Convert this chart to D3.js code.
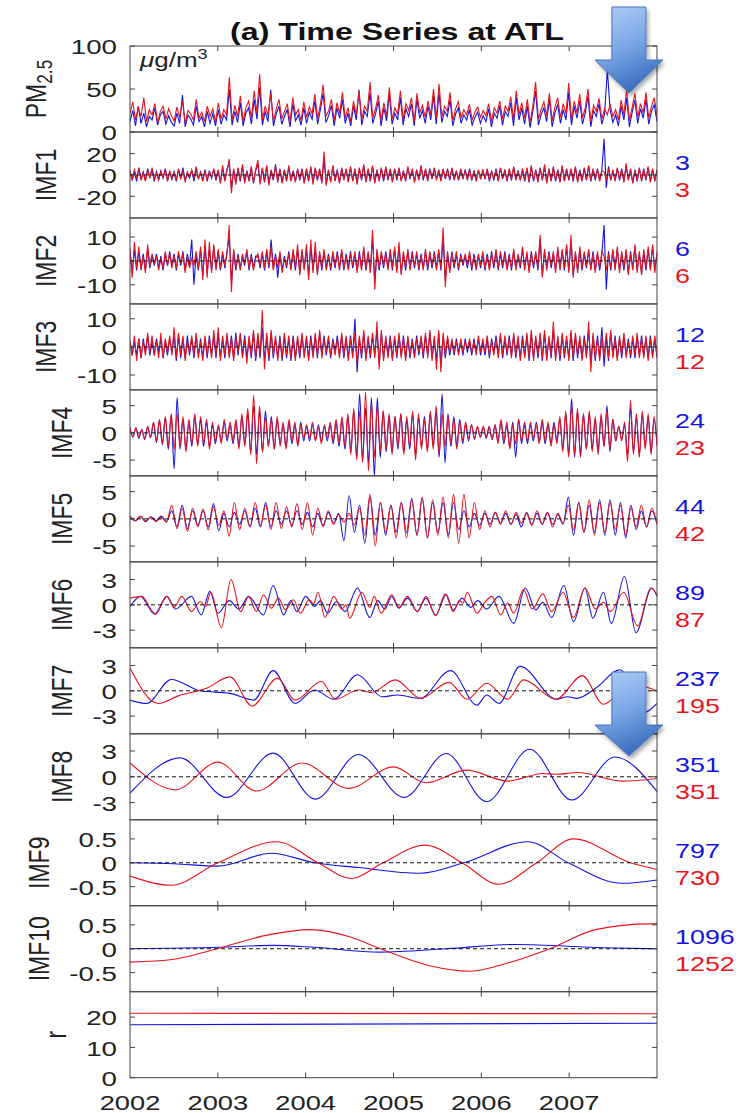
<!DOCTYPE html>
<html>
<head>
<meta charset="utf-8">
<script src="https://cdn.jsdelivr.net/npm/d3@7"></script>
<style>
  body { margin: 0; background: #fff; }
  svg { display: block; }
  text { font-family: "Liberation Sans", Arial, Helvetica, sans-serif; fill: #222; }
</style>
</head>
<body>
<svg id="chart" width="751" height="1113"></svg>
<script>
// ---------------- data ----------------
const years = [2002, 2003, 2004, 2005, 2006, 2007];
const periodsBlue = [3, 6, 12, 24, 44, 89, 237, 351, 797, 1096];
const periodsRed = [3, 6, 12, 23, 42, 87, 195, 351, 730, 1252];

// PM2.5, evenly sampled 2002-2008 (32 per year)
const pmRed = [
  22,35,14,28,18,40,12,26,20,33,11,24,30,15,27,19,
  13,29,17,36,10,25,21,14,38,16,23,12,30,18,27,11,
  34,15,26,20,64,14,31,18,42,12,28,36,16,48,22,67,
  14,30,19,45,12,27,38,15,24,33,11,40,20,26,13,35,
  17,29,21,44,15,32,55,18,25,38,13,34,22,46,16,28,
  12,36,20,47,14,30,24,58,16,27,43,13,34,19,52,15,
  28,21,48,14,33,25,40,12,45,22,31,17,36,20,50,15,
  56,18,30,24,46,13,27,35,16,26,20,32,14,23,29,17,
  25,19,33,12,28,22,36,15,30,24,41,14,48,20,34,16,
  38,11,30,58,15,26,35,19,45,13,29,40,17,33,21,57,
  14,36,22,44,16,28,50,12,31,24,39,15,27,20,32,18,
  26,14,37,20,50,13,29,45,17,33,22,46,16,30,40,19
];
const pmBlue = [
  12,25,7,30,10,22,6,18,14,28,8,20,24,9,19,11,
  7,22,10,43,6,20,15,8,30,12,18,6,24,10,21,7,
  26,9,20,14,50,8,24,11,34,7,22,28,9,38,15,52,
  8,24,12,49,7,21,30,9,18,26,6,33,13,20,8,28,
  10,23,15,36,9,26,45,11,19,31,7,28,16,38,10,22,
  7,30,14,49,8,24,18,46,10,21,36,7,28,13,44,9,
  22,14,40,8,27,18,33,7,38,16,25,10,30,14,42,9,
  46,11,24,18,38,7,21,28,10,20,14,26,8,17,23,10,
  19,12,27,6,22,16,30,8,24,18,34,7,40,14,28,9,
  30,5,24,48,8,20,28,12,38,6,22,32,10,26,14,46,
  8,30,16,36,9,22,42,6,25,18,33,9,21,72,26,11,
  20,7,30,14,40,6,23,37,10,27,16,38,9,24,32,12
];

// IMF1..IMF3, evenly sampled (40 per year)
const imf1Red = [
  3,-4,5,-2,6,-5,2,-6,4,-3,7,-4,1,-5,3,-2,5,-6,4,-3,
  2,-5,6,-3,4,-7,3,-2,5,-4,8,-3,2,-6,4,-5,3,-2,6,-4,
  5,-8,9,-6,4,15,-17,6,-9,7,-5,10,-8,3,-6,8,-7,5,14,-9,
  7,-6,9,-10,5,-4,8,-7,6,-8,4,-5,9,-6,3,-7,6,-4,5,-8,
  6,-5,8,-9,7,-4,6,-8,22,-10,5,-7,9,-6,4,-8,7,-5,6,-7,
  8,-6,5,-9,7,-4,10,-7,6,-5,9,-8,4,-6,7,-5,8,-4,6,-7,
  5,-4,7,-6,3,-5,8,-3,6,-7,4,-5,9,-4,6,-6,5,-3,7,-5,
  4,-6,6,-3,5,-4,7,-5,3,-4,6,-3,4,-5,5,-4,3,-6,5,-3,
  4,-3,6,-5,3,-4,5,-6,7,-3,4,-5,6,-4,8,-5,3,-4,6,-5,
  7,-6,9,-5,4,-7,6,-4,10,-8,5,-6,8,-5,4,-7,9,-6,5,-4,
  6,-5,8,-7,4,-6,7,-4,9,-5,6,-4,5,-6,4,3,-5,6,-4,5,
  -6,7,-4,5,-7,11,-5,6,-8,4,-5,7,-6,5,-4,8,-7,6,-5,4
];
const imf1Blue = [
  4,-5,3,-6,7,-4,3,-5,6,-2,5,-6,3,-4,4,-3,6,-5,3,-4,
  3,-6,5,-4,7,-5,2,-3,4,-6,6,-4,3,-5,5,-6,4,-3,5,-5,
  4,-7,7,-5,6,10,-12,5,-7,6,-6,8,-6,4,-5,7,-8,4,10,-7,
  6,-7,8,-8,4,-5,10,-6,5,-7,5,-6,7,-5,4,-6,5,-5,6,-7,
  5,-6,7,-7,6,-5,5,-7,15,-8,4,-6,8,-5,5,-7,6,-4,5,-6,
  7,-5,6,-8,6,-5,9,-6,5,-6,8,-7,5,-5,6,-6,7,-5,5,-6,
  6,-5,6,-5,4,-6,7,-4,5,-6,5,-4,8,-5,5,-5,6,-4,6,-4,
  5,-5,5,-4,6,-5,6,-4,4,-5,5,-4,5,-4,6,-5,4,-5,4,-4,
  5,-4,5,-6,4,-5,6,-5,6,-4,5,-6,5,-5,7,-4,4,-5,5,-6,
  6,-7,8,-6,5,-6,7,-5,8,-7,6,-5,7,-6,5,-6,8,-5,6,-5,
  5,-6,7,-6,5,-5,6,-5,8,-6,5,-5,6,-5,5,34,-12,8,-5,4,
  -5,6,-5,6,-6,8,-4,5,-7,5,-6,6,-5,6,-5,7,-6,5,-6,5
];
const imf2Red = [
  5,-7,8,-3,6,-4,2,-5,7,-2,3,-1,2,-4,1,-3,4,-2,3,-3,
  2,-3,4,-1,3,-5,2,-3,1,-2,4,-3,6,-8,9,-7,8,-5,7,-4,
  5,-3,4,-2,3,15,-13,5,-3,2,-4,3,-1,5,-3,2,-4,1,3,-2,
  4,-3,5,-2,6,-4,2,-3,4,-5,1,-2,3,-4,5,-3,7,-6,5,-4,
  7,-8,9,-5,8,-6,4,-3,5,-4,2,-3,4,-2,3,-4,5,-3,2,-4,
  3,-2,4,-5,3,-4,6,-3,4,-5,13,-12,5,-3,4,-2,3,-4,5,-3,
  6,-5,8,-6,4,-3,5,-4,3,-2,4,-3,2,-4,5,-3,4,-2,3,-4,
  5,-3,14,-11,4,-5,3,-2,4,-3,2,-1,3,-2,4,-3,2,-4,3,-2,
  4,-3,2,-4,3,-2,5,-3,4,-2,3,-4,2,-3,5,-4,3,-2,6,-4,
  4,-5,3,-2,4,-3,11,-7,5,-4,3,-2,4,-5,6,-4,5,-3,7,-5,
  11,-7,4,-5,6,-3,4,-2,5,-4,3,-5,4,-3,4,2,-4,3,-3,5,
  -4,6,-5,4,-3,5,-6,3,-4,7,-5,4,-6,5,-3,6,-4,7,-5,4
];
const imf2Blue = [
  4,-5,5,-4,4,-3,3,-4,5,-3,2,-2,3,-3,2,-4,3,-2,4,-2,
  3,-4,3,-2,4,-4,3,-2,9,-10,3,-4,5,-6,6,-5,5,-4,6,-3,
  4,-4,3,-3,4,10,-9,4,-4,3,-3,2,-2,4,-4,3,-3,2,2,-3,
  3,-4,4,-3,9,-3,3,-7,3,-4,2,-3,4,-3,4,-4,5,-5,4,-3,
  5,-6,6,-4,5,-5,3,-4,4,-3,3,-4,3,-3,4,-3,4,-4,3,-3,
  4,-3,3,-4,4,-3,5,-4,3,-4,10,-9,4,-4,3,-3,4,-3,4,-4,
  5,-4,6,-5,3,-4,4,-3,4,-3,3,-4,3,-3,4,-4,3,-3,4,-3,
  4,-4,10,-8,3,-4,4,-3,3,-4,3,-2,2,-3,3,-4,3,-3,2,-3,
  3,-4,3,-3,4,-3,4,-4,3,-3,4,-3,3,-4,4,-3,2,-3,5,-3,
  3,-4,4,-3,3,-4,9,-6,4,-3,4,-3,3,-4,5,-3,4,-4,6,-4,
  8,-6,3,-4,5,-4,3,-3,4,-3,4,-4,3,-4,3,15,-12,4,-4,4,
  -3,5,-4,3,-4,4,-5,4,-3,6,-4,3,-5,4,-4,5,-3,6,-4,3
];
const imf3Red = [
  2,-3,4,-5,3,-4,2,-3,5,-2,4,-3,2,-4,5,-4,3,-2,4,-3,
  7,-4,5,-3,4,-5,2,-2,4,-3,5,-4,2,-5,4,-3,3,-4,6,-3,
  7,-5,4,-3,5,-4,3,-5,4,-2,5,-4,3,-6,4,-3,6,-4,5,-3,
  13,-8,5,-4,6,-3,4,-5,3,-4,5,-3,4,-4,3,-5,4,-3,5,-4,
  4,-5,3,-4,5,-3,6,-4,3,-2,4,-3,2,-3,3,-4,5,-3,4,-5,
  3,-4,5,-6,4,-3,6,-5,4,-3,5,-4,9,-8,6,-5,4,-4,3,-5,
  4,-3,5,-4,3,-5,4,-3,2,-4,3,-2,4,-3,5,-4,6,-5,4,-8,
  6,-9,5,-3,4,-2,3,-2,2,-3,3,-2,2,-1,3,-2,2,-3,4,-2,
  3,-2,4,-3,2,-3,3,-4,5,-3,4,-2,3,-4,5,-3,4,-5,3,-4,
  5,-4,6,-5,4,-3,5,-4,6,-5,4,-3,9,-5,4,-4,5,-3,4,-5,
  6,-4,5,-3,4,-5,3,-4,9,-9,5,-4,3,-5,4,-3,5,-4,6,-4,
  3,-5,4,-3,5,-4,2,-3,4,-3,5,-4,3,-4,4,-5,3,-4,4,-3
];
const imf3Blue = [
  2,-3,2,-3,3,-4,3,-2,4,-3,2,-3,3,-2,3,-4,2,-3,3,-2,
  4,-5,4,-4,3,-4,4,-3,3,-4,4,-3,3,-4,3,-4,4,-3,4,-4,
  5,-4,3,-4,4,-3,4,-4,5,-3,4,-3,4,-4,3,-4,5,-5,4,-4,
  7,-5,4,-5,5,-4,3,-4,4,-5,4,-4,3,-5,4,-4,3,-4,4,-3,
  3,-4,4,-3,4,-4,5,-3,4,-3,3,-4,3,-2,4,-3,4,-4,3,-4,
  4,-3,10,-9,3,-4,5,-4,3,-4,4,-3,6,-6,5,-4,3,-3,4,-4,
  3,-4,4,-3,4,-4,3,-4,3,-3,4,-3,3,-4,4,-3,5,-4,3,-5,
  5,-6,4,-4,3,-3,2,-3,3,-2,2,-3,3,-2,2,-3,3,-2,3,-3,
  2,-3,3,-4,3,-2,4,-3,4,-4,3,-3,4,-3,4,-4,3,-4,4,-3,
  4,-5,5,-4,3,-4,4,-5,5,-4,3,-4,6,-4,3,-5,4,-4,3,-4,
  5,-5,4,-4,3,-4,4,-3,6,-6,4,-5,4,-4,7,-7,4,-5,5,-3,
  4,-4,3,-4,4,-3,3,-4,3,-4,4,-3,4,-3,3,-4,4,-3,3,-4
];

// IMF4, IMF5: successive extrema, evenly spaced in time
const imf4Red = [
  0.8,-0.6,1.0,-0.8,0.5,-1.0,1.2,-0.7,2.0,-1.5,2.5,-2.0,3.0,-2.5,3.5,
  -3.0,3.5,-2.5,3.0,-3.5,2.5,-2.0,3.5,-2.5,3.0,-2.0,2.5,-3.0,2.0,-1.5,
  1.5,-2.0,2.5,-1.0,2.0,-1.5,2.5,-3.0,3.5,-2.5,4.5,-4.0,6.9,-5.7,5.0,
  -3.5,3.0,-2.5,2.5,-3.0,3.0,-2.5,2.0,-3.0,2.5,-1.5,2.0,-2.5,1.5,-1.0,
  1.5,-1.0,2.0,-1.5,1.0,-2.0,1.5,-1.0,2.0,-1.5,2.5,-2.0,3.0,-2.5,3.5,
  -4.0,4.5,-5.0,4.0,-5.5,7.5,-7.0,5.5,-4.5,5.0,-3.5,4.0,-3.0,3.5,-4.0,
  3.0,-2.5,3.5,-4.0,3.0,-2.5,4.0,-5.0,3.5,-3.0,2.5,-3.5,4.0,-3.0,5.0,
  -4.0,3.5,-2.5,3.0,-2.0,2.5,-3.0,2.0,-1.5,2.0,-1.0,1.5,-1.0,1.2,-0.8,
  1.2,-0.8,1.0,-1.2,1.5,-2.0,2.5,-1.5,2.0,-3.0,1.5,-2.0,2.5,-1.5,2.0,
  -1.5,2.0,-1.0,1.5,-2.0,2.5,-1.5,2.0,-2.5,1.5,-2.0,3.0,-3.5,4.0,-4.5,
  5.0,-4.0,4.5,-4.5,3.5,-3.0,4.0,-3.5,3.0,-4.0,3.5,-2.5,4.0,-3.0,2.5,
  -1.5,1.2,-1.5,2.0,-5.3,6.0,-4.0,3.5,-4.5,4.0,-3.0,3.5,-4.0,3.0,-2.5
];
const imf4Blue = [
  1.0,-0.8,0.8,-1.0,0.6,-1.2,1.0,-0.9,1.8,-1.8,2.2,-2.2,2.8,-3.0,3.2,
  -6.6,6.5,-3.0,2.5,-3.0,2.0,-2.5,3.0,-2.0,2.5,-2.5,2.0,-2.5,1.5,-2.0,
  1.2,-1.5,2.0,-1.5,1.5,-2.0,2.0,-2.5,3.0,-2.0,3.5,-3.5,5.0,-4.0,4.0,
  -3.5,4.0,-2.5,3.0,-3.0,2.5,-2.0,1.5,-2.5,2.0,-2.0,1.5,-2.0,2.0,-1.5,
  1.2,-1.5,1.5,-1.2,1.5,-1.5,1.2,-1.5,1.5,-2.0,2.0,-2.5,2.5,-3.0,3.0,
  -3.5,4.0,-4.5,7.2,-5.0,4.5,-5.5,6.5,-8.0,6.5,-4.5,4.0,-3.5,3.0,-3.5,
  3.0,-3.0,3.5,-3.5,2.5,-3.0,3.5,-4.0,3.0,-2.5,3.0,-3.0,3.5,-2.5,4.0,
  -4.5,7.2,-5.5,3.5,-2.5,3.0,-2.5,2.5,-2.0,1.5,-1.5,1.5,-1.2,1.0,-0.8,
  1.0,-1.0,1.2,-1.2,1.5,-1.5,2.0,-2.0,1.5,-2.5,2.0,-4.5,2.5,-2.0,1.5,
  -2.0,1.5,-1.5,2.0,-1.5,2.0,-2.0,1.5,-2.0,2.0,-1.5,2.5,-3.0,3.5,-4.0,
  6.3,-4.5,4.0,-4.0,3.5,-3.0,3.5,-3.0,2.5,-3.5,3.0,-2.5,5.0,-3.5,2.5,
  -1.5,1.2,-1.2,1.5,-4.0,4.5,-3.5,3.0,-4.0,3.5,-2.5,3.0,-3.5,2.5,-2.0
];
const imf5Red = [
  0.4,-0.3,0.5,-0.4,0.3,-0.5,0.3,-0.6,2.5,-1.8,2.0,-2.3,2.0,-1.5,1.8,-2.0,2.2,
  -1.2,1.5,-3.2,3.0,-2.0,2.0,-1.5,3.0,-1.2,2.5,-2.0,3.0,-1.8,2.2,-1.5,2.8,-2.0,
  3.0,-3.0,2.0,-1.5,1.5,-1.0,0.8,-0.6,1.0,-1.2,2.0,-3.0,4.5,-5.0,3.0,-2.5,2.5,
  -3.5,3.0,-3.5,3.5,-3.0,4.0,-3.5,3.5,-3.0,4.0,-3.5,4.5,-4.5,4.5,-3.5,3.0,-2.0,
  1.5,-1.5,1.2,-1.0,1.5,-1.0,1.2,-0.8,1.0,-1.2,1.5,-1.0,1.2,-1.5,1.0,-0.8,2.5,
  -2.0,3.0,-2.5,3.5,-3.0,3.0,-2.5,3.0,-2.0,2.5,-3.0,2.0,-1.5,2.5,-1.5,2.0,-1.0
];
const imf5Blue = [
  0.5,-0.4,0.4,-0.5,0.4,-0.3,0.5,-0.5,1.5,-1.5,2.5,-1.8,1.5,-1.2,1.5,-1.5,2.8,
  -2.2,1.0,-1.5,1.2,-1.0,1.5,-1.5,2.0,-1.5,3.0,-1.5,1.5,-1.0,1.5,-1.2,1.5,-1.0,
  1.2,-1.5,1.0,-1.2,1.2,-0.8,1.0,-4.0,4.3,-2.5,2.5,-4.5,4.0,-3.0,3.0,-3.0,2.5,
  -2.5,3.0,-2.5,3.8,-3.0,3.8,-3.5,3.0,-2.5,3.0,-3.0,3.0,-2.0,1.5,-1.5,1.0,-1.2,
  1.0,-1.0,1.2,-0.8,1.0,-1.0,0.8,-1.5,1.2,-1.0,1.0,-1.0,1.2,-1.0,0.8,-1.0,4.0,
  -3.0,3.0,-2.5,2.5,-2.5,3.5,-3.0,3.5,-3.0,3.0,-3.5,2.5,-2.0,1.5,-1.5,1.5,-1.0
];

// IMF6..IMF10 and r: [year, value] turning points
const imf6Red = [
  [2002.00,0.8],[2002.13,1.0],[2002.29,-1.1],[2002.42,1.0],[2002.50,-0.3],[2002.59,1.0],
  [2002.70,-0.8],[2002.80,0.4],[2002.86,-0.2],[2002.92,1.5],[2003.04,-2.7],[2003.15,3.0],
  [2003.26,-0.8],[2003.35,1.0],[2003.44,-0.8],[2003.52,1.2],[2003.61,-0.4],[2003.69,0.8],
  [2003.77,-0.6],[2003.86,0.6],[2003.94,-1.0],[2004.04,0.6],[2004.09,0.1],[2004.14,1.5],
  [2004.22,-1.5],[2004.32,1.0],[2004.41,-0.5],[2004.46,0.0],[2004.50,-1.6],[2004.64,1.5],
  [2004.73,-0.3],[2004.78,1.0],[2004.86,-1.0],[2004.98,1.2],[2005.06,-0.3],[2005.16,1.0],
  [2005.27,-0.8],[2005.37,1.0],[2005.48,-1.3],[2005.59,1.3],[2005.68,-0.8],[2005.75,0.5],
  [2005.79,0.2],[2005.84,1.5],[2005.95,-1.0],[2006.04,0.3],[2006.12,1.0],[2006.22,-1.2],
  [2006.30,0.2],[2006.37,-1.0],[2006.48,1.8],[2006.58,-0.5],[2006.70,1.3],[2006.80,-0.8],
  [2006.93,1.5],[2007.05,-1.5],[2007.18,2.0],[2007.30,-0.5],[2007.39,0.3],[2007.47,-0.8],
  [2007.62,1.5],[2007.78,-2.5],[2007.93,2.0],[2008.00,1.2]
];
const imf6Blue = [
  [2002.00,-0.2],[2002.12,1.0],[2002.28,-1.1],[2002.42,1.0],[2002.52,-0.5],[2002.70,1.0],
  [2002.81,-1.2],[2002.91,1.6],[2003.00,-1.0],[2003.13,0.5],[2003.24,-0.5],[2003.35,1.0],
  [2003.52,-1.2],[2003.63,2.3],[2003.75,-1.2],[2003.83,0.5],[2003.90,-0.8],[2004.00,1.0],
  [2004.10,-0.2],[2004.17,0.5],[2004.25,-1.0],[2004.35,0.4],[2004.45,-0.8],[2004.59,2.0],
  [2004.73,-1.5],[2004.82,0.5],[2004.90,-0.5],[2004.98,1.0],[2005.06,-0.4],[2005.16,0.8],
  [2005.27,-0.8],[2005.37,0.8],[2005.48,-1.2],[2005.60,1.2],[2005.68,-0.6],[2005.78,0.8],
  [2005.88,-0.3],[2005.96,0.5],[2006.06,-0.5],[2006.20,1.0],[2006.37,-2.2],[2006.50,2.0],
  [2006.62,-0.6],[2006.70,0.3],[2006.80,-1.5],[2006.94,2.3],[2007.05,-2.0],[2007.18,2.0],
  [2007.27,-1.6],[2007.39,1.5],[2007.48,-2.2],[2007.63,3.4],[2007.76,-3.3],[2007.94,2.0],
  [2008.00,1.0]
];
const imf7Red = [
  [2002.00,2.7],[2002.32,-1.5],[2002.55,-0.6],[2002.87,0.3],[2003.14,1.65],[2003.39,-1.8],
  [2003.68,1.5],[2003.88,-1.1],[2004.18,1.1],[2004.34,-1.0],[2004.60,0.1],[2004.75,-0.2],
  [2005.02,1.3],[2005.31,-0.9],[2005.63,1.0],[2005.84,-1.0],[2006.06,0.9],[2006.30,-1.0],
  [2006.48,1.3],[2006.85,-1.0],[2007.15,1.8],[2007.39,-1.6],[2007.70,0.8],[2008.00,0.0]
];
const imf7Blue = [
  [2002.00,-1.1],[2002.19,-1.5],[2002.47,1.35],[2002.80,0.0],[2003.14,-0.3],[2003.41,-1.1],
  [2003.63,2.4],[2003.88,-1.5],[2004.10,0.1],[2004.32,-1.0],[2004.59,1.9],[2004.87,-0.7],
  [2005.05,-0.5],[2005.30,-0.9],[2005.65,2.4],[2005.95,-1.7],[2006.06,-0.5],[2006.20,-1.5],
  [2006.44,2.9],[2006.86,-1.0],[2006.98,-0.7],[2007.09,-0.9],[2007.30,0.3],[2007.58,2.5],
  [2007.85,-2.6],[2008.00,-1.5]
];
const imf8Red = [
  [2002.00,1.6],[2002.52,-1.5],[2003.00,1.7],[2003.44,-1.65],[2003.96,1.6],[2004.49,-1.35],
  [2005.00,1.15],[2005.37,-0.7],[2005.83,0.77],[2006.30,-0.5],[2006.70,0.38],[2006.85,0.3],
  [2007.10,0.5],[2007.60,-0.5],[2008.00,-0.2]
];
const imf8Blue = [
  [2002.00,-1.9],[2002.57,2.2],[2003.10,-2.4],[2003.63,2.75],[2004.11,-2.6],[2004.60,2.6],
  [2005.12,-2.4],[2005.60,2.7],[2006.06,-2.9],[2006.55,3.2],[2007.03,-2.7],[2007.52,2.3],
  [2008.00,-1.7]
];
const imf9Red = [
  [2002.00,-0.28],[2002.47,-0.47],[2003.00,0.0],[2003.67,0.44],[2004.14,0.0],[2004.52,-0.33],
  [2004.88,0.0],[2005.36,0.37],[2005.78,0.0],[2006.20,-0.45],[2006.63,0.0],[2007.05,0.5],
  [2007.70,0.0],[2008.00,-0.14]
];
const imf9Blue = [
  [2002.00,0.0],[2002.50,-0.02],[2003.00,-0.07],[2003.61,0.2],[2004.10,0.0],[2004.60,-0.1],
  [2005.30,-0.22],[2005.80,0.0],[2006.53,0.44],[2006.99,0.0],[2007.60,-0.43],[2008.00,-0.36]
];
const imf10Red = [
  [2002.00,-0.28],[2002.50,-0.22],[2002.99,0.0],[2003.60,0.3],[2004.05,0.4],[2004.50,0.25],
  [2004.85,0.0],[2005.40,-0.35],[2005.87,-0.47],[2006.30,-0.3],[2006.78,0.0],[2007.30,0.4],
  [2007.92,0.52],[2008.00,0.52]
];
const imf10Blue = [
  [2002.00,0.0],[2003.00,0.03],[2003.63,0.07],[2004.10,0.03],[2004.84,-0.07],[2005.60,0.0],
  [2006.40,0.09],[2007.40,0.02],[2008.00,0.0]
];
const rRed = [[2002.00,21.3],[2008.00,21.1]];
const rBlue = [[2002.00,17.5],[2008.00,18.0]];

// ---------------- layout ----------------
const plotLeft = 130, plotRight = 657, plotTop = 46, plotBottom = 1077.7;
const nPanels = 12;
const ph = (plotBottom - plotTop) / nPanels;
const SX = 1.3;            // the figure's text is stretched horizontally
const BLUE = "#1414e0", RED = "#e8141c";

const x = d3.scaleLinear().domain([2002, 2008]).range([plotLeft, plotRight]);

// evenly sampled series -> [year, value]
const even = vals => vals.map((v, i) => [2002 + 6 * i / (vals.length - 1), v]);

const panels = [
  {label: "PM", domain: [0, 100], ticks: [0, 50, 100], blue: even(pmBlue), red: even(pmRed), curve: d3.curveLinear, zero: false},
  {label: "IMF1", domain: [-40.3, 40.3], ticks: [-20, 0, 20], blue: even(imf1Blue), red: even(imf1Red), curve: d3.curveLinear, zero: true},
  {label: "IMF2", domain: [-18, 18], ticks: [-10, 0, 10], blue: even(imf2Blue), red: even(imf2Red), curve: d3.curveLinear, zero: true},
  {label: "IMF3", domain: [-15.3, 15.3], ticks: [-10, 0, 10], blue: even(imf3Blue), red: even(imf3Red), curve: d3.curveLinear, zero: true},
  {label: "IMF4", domain: [-7.9, 7.9], ticks: [-5, 0, 5], blue: even(imf4Blue), red: even(imf4Red), curve: d3.curveMonotoneX, zero: true},
  {label: "IMF5", domain: [-7.9, 7.9], ticks: [-5, 0, 5], blue: even(imf5Blue), red: even(imf5Red), curve: d3.curveMonotoneX, zero: true},
  {label: "IMF6", domain: [-5.1, 5.1], ticks: [-3, 0, 3], blue: imf6Blue, red: imf6Red, curve: d3.curveMonotoneX, zero: true},
  {label: "IMF7", domain: [-5.1, 5.1], ticks: [-3, 0, 3], blue: imf7Blue, red: imf7Red, curve: d3.curveMonotoneX, zero: true},
  {label: "IMF8", domain: [-5, 5], ticks: [-3, 0, 3], blue: imf8Blue, red: imf8Red, curve: d3.curveMonotoneX, zero: true},
  {label: "IMF9", domain: [-0.9, 0.9], ticks: [-0.5, 0, 0.5], blue: imf9Blue, red: imf9Red, curve: d3.curveMonotoneX, zero: true},
  {label: "IMF10", domain: [-0.9, 0.9], ticks: [-0.5, 0, 0.5], blue: imf10Blue, red: imf10Red, curve: d3.curveMonotoneX, zero: true},
  {label: "r", domain: [0, 28.4], ticks: [0, 10, 20], blue: rBlue, red: rRed, curve: d3.curveLinear, zero: false}
];
panels.forEach((p, i) => {
  if (i >= 1 && i <= 10) { p.perBlue = periodsBlue[i - 1]; p.perRed = periodsRed[i - 1]; }
});

const svg = d3.select("#chart");
const defs = svg.append("defs");

// ---------------- panels ----------------
panels.forEach((p, i) => {
  const y0 = plotTop + i * ph, y1 = y0 + ph, cy = (y0 + y1) / 2;
  const y = d3.scaleLinear().domain(p.domain).range([y1, y0]);
  const g = svg.append("g").attr("class", "panel");

  defs.append("clipPath").attr("id", "clip" + i)
    .append("rect").attr("x", plotLeft).attr("y", y0).attr("width", plotRight - plotLeft).attr("height", ph);

  const line = d3.line().x(d => x(d[0])).y(d => y(d[1])).curve(p.curve);
  const plot = g.append("g").attr("clip-path", `url(#clip${i})`);
  plot.append("path").attr("d", line(p.blue)).attr("fill", "none")
    .attr("stroke", BLUE).attr("stroke-width", 1.1);
  plot.append("path").attr("d", line(p.red)).attr("fill", "none")
    .attr("stroke", RED).attr("stroke-width", 1.1);

  if (p.zero) {
    g.append("line").attr("x1", plotLeft).attr("x2", plotRight)
      .attr("y1", y(0)).attr("y2", y(0))
      .attr("stroke", "#111").attr("stroke-width", 1).attr("stroke-dasharray", "4,3");
  }

  // frame + inward ticks
  g.append("rect").attr("x", plotLeft).attr("y", y0).attr("width", plotRight - plotLeft).attr("height", ph)
    .attr("fill", "none").attr("stroke", "#444").attr("stroke-width", 1);
  years.slice(1).forEach(yr => {
    g.append("line").attr("x1", x(yr)).attr("x2", x(yr)).attr("y1", y0).attr("y2", y0 + 5)
      .attr("stroke", "#444");
    g.append("line").attr("x1", x(yr)).attr("x2", x(yr)).attr("y1", y1).attr("y2", y1 - 5)
      .attr("stroke", "#444");
  });
  p.ticks.forEach(t => {
    g.append("line").attr("x1", plotLeft).attr("x2", plotLeft + 5).attr("y1", y(t)).attr("y2", y(t)).attr("stroke", "#444");
    g.append("line").attr("x1", plotRight - 5).attr("x2", plotRight).attr("y1", y(t)).attr("y2", y(t)).attr("stroke", "#444");
  });

  // tick labels
  const tl = g.append("g");
  p.ticks.forEach(t => {
    tl.append("text")
      .attr("transform", `translate(${plotLeft - 13},${y(t)}) scale(1.35,1)`)
      .attr("text-anchor", "end").attr("dy", "0.4em")
      .attr("font-size", 20.5).text(String(t));
  });
  const tickLeft = tl.node().getBoundingClientRect().left;

  // rotated y label
  const lab = g.append("text").attr("text-anchor", "middle").attr("font-size", 23);
  if (p.label === "PM") {
    lab.append("tspan").text("PM");
    lab.append("tspan").attr("font-size", "0.75em").attr("dy", "0.3em").text("2.5");
  } else {
    lab.text(p.label);
  }
  lab.attr("transform", `translate(0,${cy}) scale(${SX},1) rotate(-90)`);
  const lr = lab.node().getBoundingClientRect().right;
  lab.attr("transform", `translate(${tickLeft - 14 - lr},${cy}) scale(${SX},1) rotate(-90)`);

  // characteristic periods
  if (p.perBlue !== undefined) {
    g.append("text").attr("transform", `translate(675,${cy - 5}) scale(1.28,1)`)
      .attr("font-size", 21).style("fill", BLUE).text(p.perBlue);
    g.append("text").attr("transform", `translate(675,${cy + 22.5}) scale(1.28,1)`)
      .attr("font-size", 21).style("fill", RED).text(p.perRed);
  }
});

// unit label in the first panel
const unit = svg.append("text").attr("transform", `translate(${plotLeft + 10},67) scale(${SX},1)`)
  .attr("font-size", 20);
unit.append("tspan").attr("font-style", "italic").text("μ");
unit.append("tspan").text("g/m");
unit.append("tspan").attr("font-size", "0.7em").attr("dy", "-0.6em").text("3");

// year labels
years.forEach(yr => {
  svg.append("text").attr("transform", `translate(${x(yr)},1110) scale(1.3,1)`)
    .attr("text-anchor", "middle").attr("font-size", 21).text(yr);
});

// title
svg.append("text").attr("transform", `translate(397,40) scale(1.4,1)`)
  .attr("text-anchor", "middle").attr("font-size", 23).attr("font-weight", "bold")
  .style("fill", "#111").text("(a) Time Series at ATL");

// ---------------- annotation arrows ----------------
const grad = defs.append("linearGradient").attr("id", "arrowFill")
  .attr("x1", 0).attr("y1", 0).attr("x2", 0.35).attr("y2", 1);
grad.append("stop").attr("offset", "0%").attr("stop-color", "#b2d0f6");
grad.append("stop").attr("offset", "55%").attr("stop-color", "#7aa6e6");
grad.append("stop").attr("offset", "100%").attr("stop-color", "#3e71c0");
const shadow = defs.append("filter").attr("id", "arrowShadow")
  .attr("x", "-30%").attr("y", "-30%").attr("width", "160%").attr("height", "160%");
shadow.append("feDropShadow").attr("dx", 2).attr("dy", 3).attr("stdDeviation", 2)
  .attr("flood-color", "#000").attr("flood-opacity", 0.35);

const arrowYear = 2007.68;
const arrows = [{top: 7, neck: 60, tip: 93}, {top: 672, neck: 725, tip: 756}];
arrows.forEach(a => {
  const cx = x(arrowYear), sw = 17, hw = 34;
  const path = d3.path();
  path.moveTo(cx - sw, a.top);
  path.lineTo(cx + sw, a.top);
  path.lineTo(cx + sw, a.neck);
  path.lineTo(cx + hw, a.neck);
  path.lineTo(cx, a.tip);
  path.lineTo(cx - hw, a.neck);
  path.lineTo(cx - sw, a.neck);
  path.closePath();
  svg.append("path").attr("d", path.toString())
    .attr("fill", "url(#arrowFill)").attr("stroke", "#4a76b8").attr("stroke-width", 1)
    .attr("filter", "url(#arrowShadow)");
});
</script>
</body>
</html>
